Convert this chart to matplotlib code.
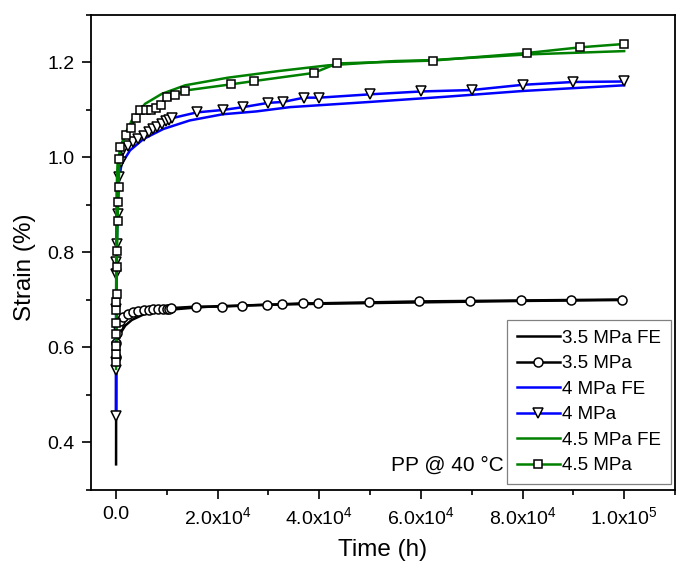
import matplotlib
matplotlib.use("Agg")
from matplotlib import pyplot as plt
from matplotlib.ticker import MultipleLocator, FuncFormatter

plt.rcParams["font.family"] = ["Liberation Sans", "DejaVu Sans"]
plt.rcParams["mathtext.fontset"] = "custom"
plt.rcParams["mathtext.rm"] = "Liberation Sans"
plt.rcParams["mathtext.it"] = "Liberation Sans:italic"
plt.rcParams["mathtext.bf"] = "Liberation Sans:bold"

# Data ─────────────────────────────────────────────────────────────────────────
# 3.5 MPa
t35_fe = [0, 20, 100, 300, 800, 1800, 3100, 5700, 9000, 15500, 20000, 30000, 40000, 60000, 80000, 100000]
s35_fe = [0.354, 0.56, 0.597, 0.615, 0.629, 0.646, 0.658, 0.671, 0.678, 0.684, 0.687, 0.690, 0.692, 0.695, 0.698, 0.700]
t35 = [0, 50, 150, 400, 800, 1400, 2400, 3400, 4400, 5400, 6400, 7300, 8300, 9300, 10000, 10400, 10900,
       15700, 20800, 24800, 29700, 32600, 36700, 39700, 49700, 59700, 69700, 79700, 89600, 99600]
s35 = [0.58, 0.61, 0.63, 0.645, 0.655, 0.664, 0.671, 0.674, 0.676, 0.678, 0.679, 0.680, 0.681, 0.681, 0.681, 0.682, 0.683,
       0.686, 0.686, 0.688, 0.690, 0.691, 0.693, 0.693, 0.695, 0.697, 0.698, 0.699, 0.700, 0.701]

# 4 MPa
t40_fe = [0, 20, 100, 300, 600, 1100, 2750, 5400, 9300, 14500, 21000, 27600, 34200, 50000, 65000, 80000, 100000]
s40_fe = [0.455, 0.70, 0.85, 0.93, 0.958, 0.987, 1.015, 1.039, 1.060, 1.078, 1.091, 1.097, 1.106, 1.117, 1.128, 1.140, 1.152]
t40 = [0, 5, 10, 20, 40, 80, 150, 300, 600, 1000, 1400, 2400, 3400, 4400, 5400, 6400, 7300, 8000, 9000, 9800,
       10400, 11100, 15900, 21000, 25000, 29900, 32900, 37000, 40000, 50000, 60000, 70000, 80000, 90000, 100000]
s40 = [0.455, 0.552, 0.57, 0.68, 0.755, 0.78, 0.818, 0.881, 0.959, 0.99, 1.015, 1.025, 1.032, 1.039, 1.046, 1.053,
       1.060, 1.064, 1.071, 1.076, 1.079, 1.083, 1.095, 1.100, 1.106, 1.115, 1.117, 1.126, 1.126, 1.133, 1.139,
       1.142, 1.153, 1.159, 1.160]

# 4.5 MPa
t45_fe = [0, 20, 100, 300, 800, 1800, 3100, 5700, 9000, 13600, 22000, 32000, 41700, 54800, 62000, 81000, 100000]
s45_fe = [0.555, 0.80, 0.93, 0.99, 1.015, 1.050, 1.078, 1.113, 1.134, 1.152, 1.168, 1.182, 1.194, 1.203, 1.205, 1.217, 1.224]
t45 = [0, 5, 10, 20, 40, 60, 80, 100, 150, 200, 300, 400, 500, 650, 800, 1900, 2900, 3900, 4800, 5900, 6900,
       7800, 8800, 10000, 11600, 13600, 22600, 27200, 38900, 43500, 62300, 80900, 91400, 100000]
s45 = [0.569, 0.587, 0.604, 0.629, 0.651, 0.678, 0.695, 0.713, 0.769, 0.804, 0.867, 0.906, 0.937, 0.996, 1.023,
       1.048, 1.063, 1.083, 1.099, 1.100, 1.101, 1.105, 1.111, 1.127, 1.131, 1.141, 1.154, 1.161, 1.178, 1.198,
       1.204, 1.220, 1.232, 1.239]

# Plot ─────────────────────────────────────────────────────────────────────────
fig = plt.figure(figsize=(6.9, 5.66), dpi=100)
ax = fig.add_axes([0.1314, 0.1343, 0.8468, 0.8392])

lw = 1.8
mk = dict(markerfacecolor="white", markeredgecolor="black", markeredgewidth=1.1)

ax.plot(t35_fe, s35_fe, color="black", lw=lw, label="3.5 MPa FE")
ax.plot(t35, s35, color="black", lw=lw, marker="o", ms=6.5, label="3.5 MPa", **mk)
ax.plot(t40_fe, s40_fe, color="#0000ff", lw=lw, label="4 MPa FE")
ax.plot(t40, s40, color="#0000ff", lw=lw, marker="v", ms=7.5, label="4 MPa", **mk)
ax.plot(t45_fe, s45_fe, color="#008000", lw=lw, label="4.5 MPa FE")
ax.plot(t45, s45, color="#008000", lw=lw, marker="s", ms=5.8, label="4.5 MPa", **mk)

ax.set_xlim(-5000, 110000)
ax.set_ylim(0.3, 1.3)

ax.xaxis.set_major_locator(MultipleLocator(20000))
ax.xaxis.set_minor_locator(MultipleLocator(10000))
ax.yaxis.set_major_locator(MultipleLocator(0.2))
ax.yaxis.set_minor_locator(MultipleLocator(0.1))


def sci_fmt(v, pos):
    if abs(v) < 1e-9:
        return "0.0"
    e = 0
    m = v
    while abs(m) >= 10:
        m /= 10.0
        e += 1
    return r"$\mathregular{%.1fx10^{%d}}$" % (m, e)


ax.xaxis.set_major_formatter(FuncFormatter(sci_fmt))
ax.yaxis.set_major_formatter(FuncFormatter(lambda v, p: "%.1f" % v))

ax.tick_params(which="both", direction="out", top=False, right=False, width=1.2, labelsize=14)
ax.tick_params(which="major", length=6.5, pad=5)
ax.tick_params(which="minor", length=3.5)
for sp in ax.spines.values():
    sp.set_linewidth(1.3)

ax.set_xlabel("Time (h)", fontsize=17.5, labelpad=8)
ax.set_ylabel("Strain (%)", fontsize=17.5)
ax.yaxis.set_label_coords(-0.094, 0.469)

ax.text(0.611, 0.052, "PP @ 40 °C", transform=ax.transAxes, ha="center", va="center", fontsize=15)

leg = ax.legend(loc="lower right", bbox_to_anchor=(0.993, 0.013), borderaxespad=0, fontsize=13.5,
                numpoints=1, handlelength=2.3, handletextpad=0.15, labelspacing=0.45, borderpad=0.5,
                fancybox=False, framealpha=1, edgecolor="#808080")
leg.get_frame().set_linewidth(0.9)

fig.savefig("out.png", dpi=100)
